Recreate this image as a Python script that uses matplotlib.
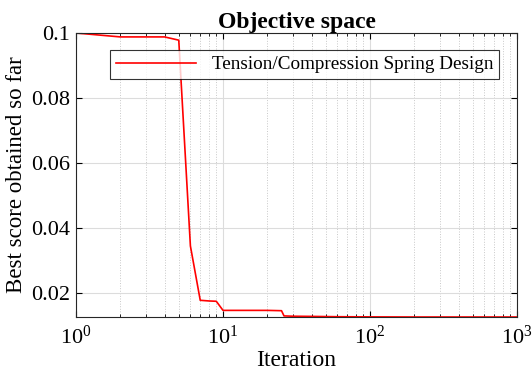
import numpy as np
import matplotlib.pyplot as plt

# convergence curve of the best score, one value per iteration checkpoint
iters = [1, 2, 3, 4, 5, 6, 7, 8, 9, 10, 15, 20, 25, 26, 30, 40, 60, 100, 200, 500, 1000]
best_score = [0.1, 0.0988, 0.0988, 0.0988, 0.0978, 0.0345, 0.0178, 0.0176, 0.0175,
              0.0147, 0.0147, 0.0147, 0.0146, 0.0130, 0.0129, 0.01285, 0.01275,
              0.01270, 0.012668, 0.012665, 0.012665]
y_ticks = [0.02, 0.04, 0.06, 0.08, 0.1]
y_ticklabels = ['0.02', '0.04', '0.06', '0.08', '0.1']

plt.rcParams['font.family'] = ['Liberation Serif', 'DejaVu Serif']
plt.rcParams['mathtext.fontset'] = 'stix'

fig = plt.figure(figsize=(5.32, 3.79), dpi=100)
ax = fig.add_axes([0.1429, 0.1636, 0.8289, 0.7493])

ax.semilogx(iters, best_score, color='red', linewidth=1.2,
            label='Tension/Compression Spring Design')

ax.set_xlim(1, 1000)
ax.set_ylim(0.012665, 0.1)
ax.set_yticks(y_ticks)
ax.set_yticklabels(y_ticklabels)

# grid: solid for major ticks, dotted for the log minor ticks on x
ax.grid(True, which='major', color='#dcdcdc', linewidth=0.8, linestyle='-')
ax.xaxis.grid(True, which='minor', color='#c8c8c8', linewidth=0.7, linestyle=':')
ax.set_axisbelow(True)

ax.tick_params(which='both', direction='in', top=True, right=True, labelsize=16)
ax.tick_params(axis='y', pad=4)
ax.tick_params(axis='x', pad=6)
ax.tick_params(which='major', length=4)
ax.tick_params(which='minor', length=2)
for s in ax.spines.values():
    s.set_color('#262626')
    s.set_linewidth(0.8)

ax.set_title('Objective space', fontsize=17, fontweight='bold', pad=1)
ax.set_xlabel('Iteration', fontsize=17, labelpad=1)
ax.set_ylabel('Best score obtained so far', fontsize=16.5, labelpad=3)

leg = ax.legend(loc='upper right', bbox_to_anchor=(0.959, 0.94), fontsize=13.8,
                frameon=True, fancybox=False, edgecolor='black',
                handlelength=4.2, borderpad=0.3, borderaxespad=0)
leg.get_frame().set_linewidth(0.8)

plt.savefig('out.png', dpi=100, facecolor='white')
